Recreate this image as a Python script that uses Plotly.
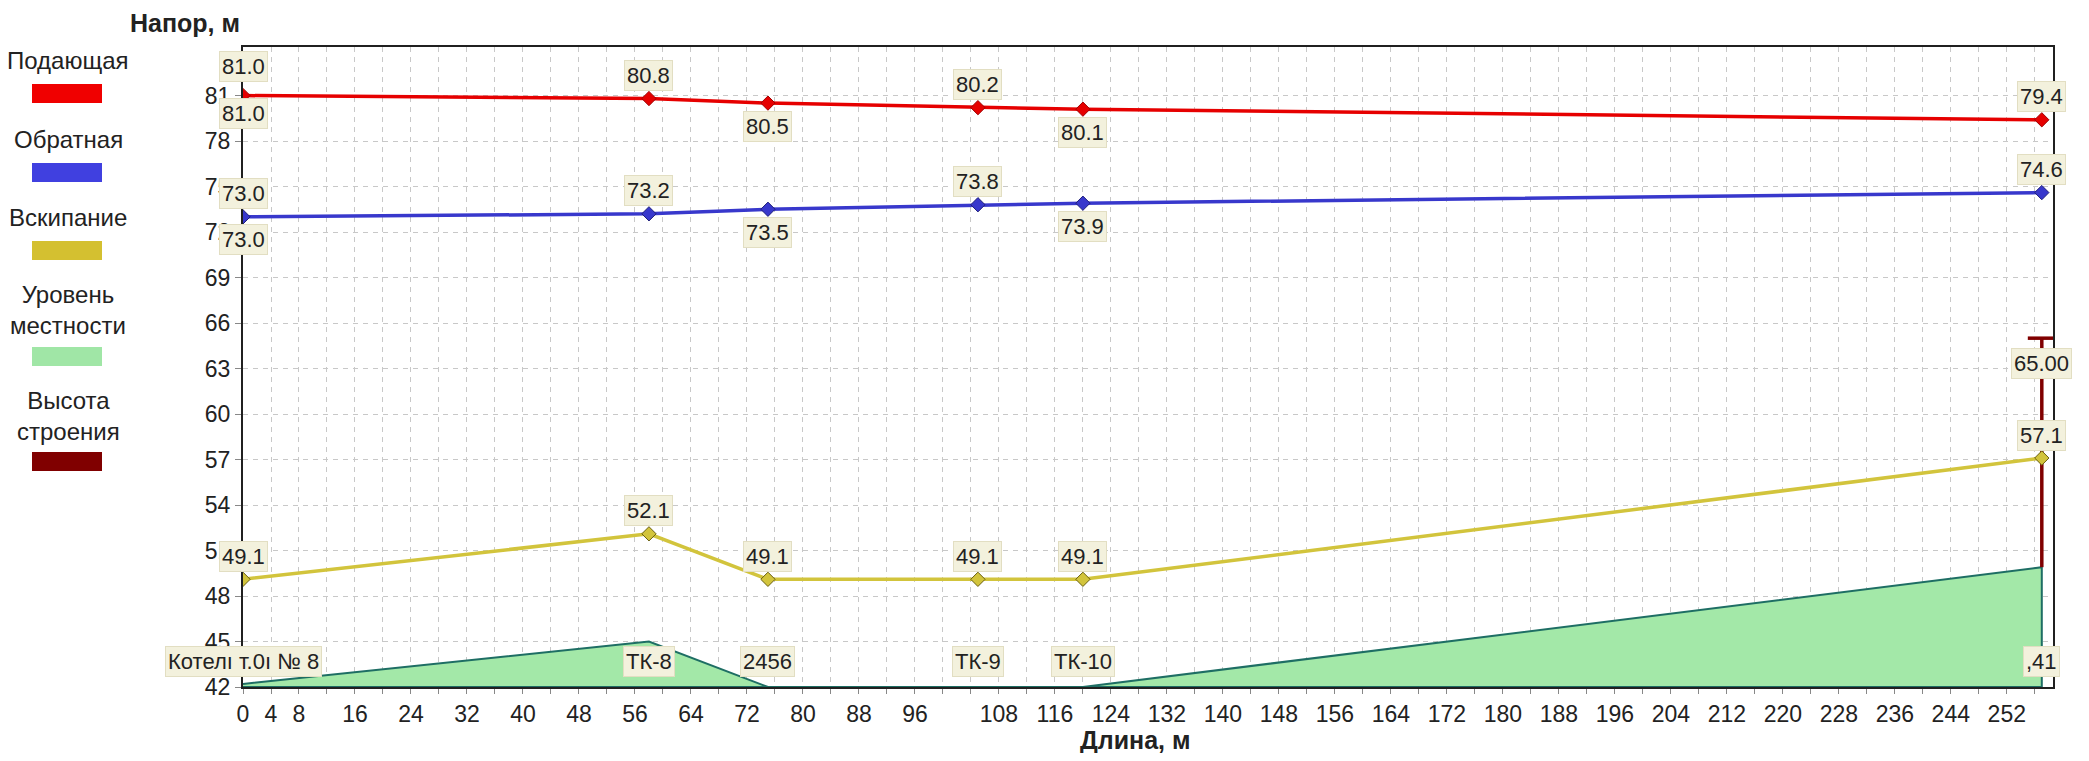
import plotly.graph_objects as go

# ---------------- data ----------------
dist = [0, 58, 75, 105, 120, 257]                      # длина, м
supply = [81.0, 80.8, 80.5, 80.2, 80.1, 79.4]          # Подающая
ret = [73.0, 73.2, 73.5, 73.8, 73.9, 74.6]             # Обратная
boil = [49.1, 52.1, 49.1, 49.1, 49.1, 57.1]            # Вскипание
terrain = [42.2, 45.0, 42.0, 42.0, 42.0, 49.9]         # Уровень местности
building_height = 65.00                                 # Высота строения (в конце)
node_names = ["Котелı т.0ı № 8", "ТК-8", "2456", "ТК-9", "ТК-10", ",41"]
supply_label_pos = ["both", "above", "below", "above", "below", "above"]
ret_label_pos = ["both", "above", "below", "above", "below", "above"]
boil_label_pos = ["above"] * 6

y_ticks = [42, 45, 48, 51, 54, 57, 60, 63, 66, 69, 72, 75, 78, 81]
x_ticks = [0, 4, 8, 16, 24, 32, 40, 48, 56, 64, 72, 80, 88, 96,
           108, 116, 124, 132, 140, 148, 156, 164, 172, 180, 188, 196,
           204, 212, 220, 228, 236, 244, 252]
Y_MIN, Y_MAX = 42, 84.2
X_MIN, X_MAX = 0, 258.6
NAME_LEVEL = 43.65

legend_items = [
    ("Подающая", "#F00000"),
    ("Обратная", "#4040E0"),
    ("Вскипание", "#D4C030"),
    ("Уровень<br>местности", "#A0E6A6"),
    ("Высота<br>строения", "#800000"),
]

# ---------------- geometry ----------------
OFF = 8                      # page body margin
W, H = 2089 - 2 * OFF, 761 - 2 * OFF
L, T = 243 - OFF, 47 - OFF
R, B = W - (2053 - OFF), H - (687 - OFF)
PW, PH = W - L - R, H - T - B


def px(xp):   # reference page pixel -> paper
    return (xp - OFF - L) / PW


def py(yp):
    return (H - B - (yp - OFF)) / PH


FONT = "Liberation Sans, Arial, sans-serif"
RED, RED_D = "#E60000", "#A00000"
BLUE, BLUE_D = "#3838CC", "#20207A"
YEL, YEL_D = "#D2C43C", "#6A6010"
GREEN, GREEN_L = "#A3E8A8", "#1E6E64"
BROWN = "#800000"
GRID = "#C8C8C8"
TXT = "#222222"

fig = go.Figure()

fig.add_trace(go.Scatter(
    x=dist + [dist[-1], dist[0]],
    y=terrain + [Y_MIN, Y_MIN],
    mode="lines", fill="toself", fillcolor=GREEN,
    line=dict(color=GREEN_L, width=2), hoverinfo="skip", showlegend=False))

fig.add_trace(go.Scatter(
    x=[dist[-1], dist[-1]], y=[terrain[-1], building_height],
    mode="lines", line=dict(color=BROWN, width=3.5), showlegend=False))
fig.add_trace(go.Scatter(
    x=[dist[-1]], y=[building_height], mode="markers",
    marker=dict(symbol="line-ew", size=20, line=dict(color=BROWN, width=3.5)),
    showlegend=False))

for ys, col, dcol in [(boil, YEL, YEL_D), (ret, BLUE, BLUE_D), (supply, RED, RED_D)]:
    fig.add_trace(go.Scatter(
        x=dist, y=ys, mode="lines+markers",
        line=dict(color=col, width=3.5),
        marker=dict(symbol="diamond", size=11, color=col, line=dict(color=dcol, width=1)),
        showlegend=False))

annotations = []
box = dict(bgcolor="#F3F1DD", bordercolor="#E2DEC2", borderwidth=1, borderpad=2,
           font=dict(family=FONT, size=22, color=TXT), showarrow=False,
           xref="x", yref="y", xanchor="center", yanchor="middle")


def add_labels(values, positions, special_first=None):
    for i, (xv, yv, pos) in enumerate(zip(dist, values, positions)):
        up, down = 23, -23
        if special_first and i == 0:
            up, down = special_first
        txt = f"{yv:.1f}"
        if pos in ("above", "both"):
            annotations.append(dict(x=xv, y=yv, text=txt, yshift=up, **box))
        if pos in ("below", "both"):
            annotations.append(dict(x=xv, y=yv, text=txt, yshift=down, **box))


add_labels(supply, supply_label_pos, special_first=(29, -18))
add_labels(ret, ret_label_pos)
add_labels(boil, boil_label_pos)
annotations.append(dict(x=dist[-1], y=building_height, text=f"{building_height:.2f}",
                        yshift=-25, **box))
for xv, name in zip(dist, node_names):
    annotations.append(dict(x=xv, y=NAME_LEVEL, text=name, **box))

title_font = dict(family=FONT, size=25, color=TXT)
annotations.append(dict(x=px(185), y=py(23), xref="paper", yref="paper", showarrow=False,
                        xanchor="center", yanchor="middle",
                        text="<b>Напор, м</b>", font=title_font))
annotations.append(dict(x=px(1135), y=py(740), xref="paper", yref="paper", showarrow=False,
                        xanchor="center", yanchor="middle",
                        text="<b>Длина, м</b>", font=title_font))

shapes = []
legend_layout = [(61, 84), (139, 163), (217, 241), (310, 347), (416, 452)]
for (label, col), (ty, sy) in zip(legend_items, legend_layout):
    annotations.append(dict(x=px(68), y=py(ty), xref="paper", yref="paper", showarrow=False,
                            xanchor="center", yanchor="middle",
                            text=label, align="center",
                            font=dict(family=FONT, size=24, color=TXT)))
    shapes.append(dict(type="rect", xref="paper", yref="paper",
                       x0=px(32), x1=px(102), y0=py(sy + 19), y1=py(sy),
                       fillcolor=col, line=dict(width=0)))

fig.update_layout(
    width=W, height=H,
    margin=dict(l=L, r=R, t=T, b=B, pad=0),
    paper_bgcolor="white", plot_bgcolor="white",
    annotations=annotations, shapes=shapes,
    showlegend=False,
    font=dict(family=FONT, size=22, color=TXT),
)
fig.update_xaxes(
    range=[X_MIN, X_MAX], tickvals=x_ticks, ticktext=[str(v) for v in x_ticks],
    showgrid=True, gridcolor=GRID, griddash="5px,5px", gridwidth=1,
    ticks="outside", ticklen=5, tickcolor="#888",
    minor=dict(dtick=4, tick0=0, showgrid=True, gridcolor=GRID, griddash="5px,5px",
               ticks="outside", ticklen=5, tickcolor="#888"),
    showline=True, linecolor="#202020", linewidth=2, mirror=True,
    zeroline=False, tickfont=dict(family=FONT, size=23, color=TXT),
)
fig.update_yaxes(
    range=[Y_MIN, Y_MAX], tickvals=y_ticks,
    showgrid=True, gridcolor=GRID, griddash="5px,5px", gridwidth=1,
    ticks="outside", ticklen=6, tickcolor="#888",
    showline=True, linecolor="#202020", linewidth=2, mirror=True,
    zeroline=False, tickfont=dict(family=FONT, size=23, color=TXT),
)

fig.write_html("out.html")
